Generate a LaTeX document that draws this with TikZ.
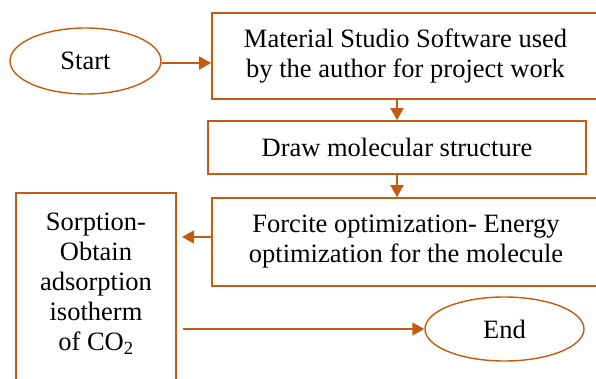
\documentclass[tikz,border=0pt]{standalone}
\usepackage{fontspec}
\setmainfont{Liberation Serif}
\usetikzlibrary{shapes.geometric, arrows.meta}

\definecolor{flowor}{HTML}{C55A11}

\tikzset{
  flowbox/.style={rectangle, draw=flowor, line width=1.6pt, align=center, inner sep=0pt},
  term/.style={ellipse, draw=flowor, line width=1.4pt, inner sep=0pt},
  flowarr/.style={draw=flowor, line width=1.5pt, -{Triangle[length=12pt,width=13pt]}}
}

\begin{document}
\begin{tikzpicture}[x=1pt, y=1pt, font=\fontsize{26.5}{30}\selectfont]
\useasboundingbox (0,0) rectangle (596,-379);
\node[term, minimum width=151pt, minimum height=66pt] (start) at (85.5,-61) {Start};
\node[flowbox, minimum width=387pt, minimum height=86pt] (mss) at (405.5,-56) {Material Studio Software used\\by the author for project work};
\node[flowbox, minimum width=378pt, minimum height=53pt] (draw) at (397,-147.5) {Draw molecular structure};
\node[flowbox, minimum width=388pt, minimum height=88pt] (forcite) at (406,-242) {Forcite optimization- Energy\\optimization for the molecule};
\node[flowbox, minimum width=160pt, minimum height=197pt] (sorp) at (96,-291.5) {};
\node[align=center] (sorptext) at (96,-284) {Sorption-\\Obtain\\adsorption\\isotherm\\of CO\textsubscript{2}};
\node[term, minimum width=159pt, minimum height=64pt] (end) at (504.5,-329) {End};
\coordinate (tipL) at (182,-237);
\coordinate (outS) at (183,-329);

\draw[flowarr] (start.east |- 0,-63) -- (mss.west |- 0,-63);
\draw[flowarr] (draw.north |- mss.south) -- (draw.north);
\draw[flowarr] (draw.south) -- (draw.south |- forcite.north);
\draw[flowarr] (forcite.west |- tipL) -- (tipL);
\draw[flowarr] (outS) -- (end.west);
\end{tikzpicture}
\end{document}
